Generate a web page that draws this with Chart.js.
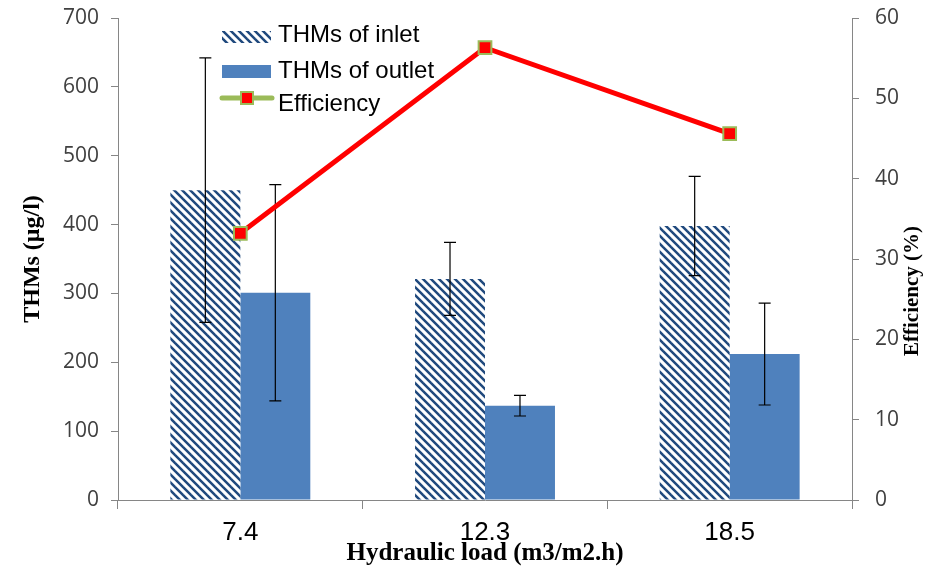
<!DOCTYPE html>
<html>
<head>
    <meta charset="UTF-8">
    <title>THMs vs Hydraulic load</title>
    <script src="https://cdn.jsdelivr.net/npm/chart.js"></script>
    <style>
        body { margin: 0; background: #fff; }
        .chart-wrapper { width: 927px; height: 571px; }
    </style>
</head>
<body>
<div class="chart-wrapper">
    <canvas id="thmsChart"></canvas>
</div>

<script>
    // Values
    const categories = ['7.4', '12.3', '18.5'];
    const inlet = [450, 321, 398];
    const inletErr = [192, 53, 72];
    const outlet = [301, 137, 212];
    const outletErr = [157, 15, 74];
    const efficiency = [33.2, 56.3, 45.6];
    const seriesNames = ['THMs of inlet', 'THMs of outlet', 'Efficiency'];

    // Diagonal hatch for the inlet bars
    function makeHatch(color) {
        var c = document.createElement('canvas');
        c.width = 8; c.height = 8;
        var g = c.getContext('2d');
        g.fillStyle = '#fff';
        g.fillRect(0, 0, 8, 8);
        g.strokeStyle = color;
        g.lineWidth = 2.5;
        for (var k = -8; k <= 8; k += 8) {
            g.beginPath();
            g.moveTo(k - 1, -1);
            g.lineTo(k + 9, 9);
            g.stroke();
        }
        return g.createPattern(c, 'repeat');
    }
    const hatch = makeHatch('#1F497D');
    const errors = { 1: inletErr, 2: outletErr };

    // Error bars, drawn right after each bar dataset (so the line stays on top)
    const errorBars = {
        id: 'errorBars',
        afterDatasetDraw(chart, args) {
            var errs = errors[args.index];
            if (!errs) return;
            var ctx = chart.ctx;
            var y = chart.scales.y;
            var vals = chart.data.datasets[args.index].data;
            ctx.save();
            ctx.strokeStyle = '#000';
            ctx.lineWidth = 1.2;
            args.meta.data.forEach(function (bar, i) {
                var top = y.getPixelForValue(vals[i] + errs[i]);
                var bot = y.getPixelForValue(vals[i] - errs[i]);
                ctx.beginPath();
                ctx.moveTo(bar.x, top); ctx.lineTo(bar.x, bot);
                ctx.moveTo(bar.x - 6, top); ctx.lineTo(bar.x + 6, top);
                ctx.moveTo(bar.x - 6, bot); ctx.lineTo(bar.x + 6, bot);
                ctx.stroke();
            });
            ctx.restore();
        }
    };

    // Legend inside the plot and right-hand axis title
    const extras = {
        id: 'extras',
        afterDraw(chart) {
            var ctx = chart.ctx;
            var a = chart.chartArea;
            var x0 = a.left + 104;
            var rows = [a.top + 19, a.top + 53, a.top + 80];
            ctx.save();
            ctx.font = '24px "Liberation Sans", Arial, sans-serif';
            ctx.fillStyle = '#000';
            ctx.textBaseline = 'middle';
            // inlet
            ctx.fillStyle = hatch;
            ctx.fillRect(x0, rows[0] - 6, 49, 12);
            // outlet
            ctx.fillStyle = '#4F81BD';
            ctx.fillRect(x0, rows[1] - 6, 49, 13);
            // efficiency
            ctx.strokeStyle = '#9BBB59';
            ctx.lineWidth = 5;
            ctx.lineCap = 'round';
            ctx.beginPath();
            ctx.moveTo(x0, rows[2]); ctx.lineTo(x0 + 50, rows[2]);
            ctx.stroke();
            ctx.fillStyle = '#9BBB59';
            ctx.fillRect(x0 + 18, rows[2] - 7, 14, 14);
            ctx.fillStyle = '#FF0000';
            ctx.fillRect(x0 + 20, rows[2] - 5, 10, 10);
            ctx.fillStyle = '#000';
            ctx.fillText(seriesNames[0], x0 + 56, rows[0] - 2);
            ctx.fillText(seriesNames[1], x0 + 56, rows[1]);
            ctx.fillText(seriesNames[2], x0 + 56, rows[2] + 6);
            // right axis title
            ctx.font = 'bold 21px "Liberation Serif", "Times New Roman", serif';
            ctx.textAlign = 'center';
            ctx.translate(chart.width - 14, (a.top + a.bottom) / 2 + 32);
            ctx.rotate(-Math.PI / 2);
            ctx.fillText('Efficiency (%)', 0, 0);
            ctx.restore();
        }
    };

    const tickFont = { family: '"Open Sans", sans-serif', size: 21 };
    const axisGrey = '#868686';

    function fixWidth(w) {
        return function (s) {
            s.width = w;
            s.paddingTop = 0;
            s.paddingBottom = 0;
        };
    }

    new Chart(document.getElementById('thmsChart'), {
        type: 'bar',
        data: {
            labels: categories,
            datasets: [
                {
                    type: 'line',
                    label: seriesNames[2],
                    data: efficiency,
                    yAxisID: 'y1',
                    borderColor: '#FF0000',
                    borderWidth: 5,
                    tension: 0,
                    pointStyle: 'rect',
                    pointRadius: 9,
                    pointHoverRadius: 9,
                    pointBackgroundColor: '#FF0000',
                    pointBorderColor: '#9BBB59',
                    pointBorderWidth: 2,
                    order: 0
                },
                {
                    label: seriesNames[0],
                    data: inlet,
                    backgroundColor: hatch,
                    yAxisID: 'y',
                    categoryPercentage: 0.572,
                    barPercentage: 1.0,
                    order: 1
                },
                {
                    label: seriesNames[1],
                    data: outlet,
                    backgroundColor: '#4F81BD',
                    yAxisID: 'y',
                    categoryPercentage: 0.572,
                    barPercentage: 1.0,
                    order: 2
                }
            ]
        },
        options: {
            responsive: true,
            maintainAspectRatio: false,
            animation: false,
            layout: { padding: { top: 18, left: 0, right: 0, bottom: 0 } },
            plugins: {
                legend: { display: false },
                tooltip: { enabled: false }
            },
            scales: {
                x: {
                    afterFit: function (s) { s.height = 71; },
                    grid: { offset: true, drawOnChartArea: false, tickLength: 9, color: axisGrey },
                    border: { color: axisGrey },
                    ticks: {
                        color: '#000',
                        padding: 8,
                        font: { family: '"Liberation Sans", Arial, sans-serif', size: 26 }
                    },
                    title: {
                        display: true,
                        text: 'Hydraulic load (m3/m2.h)',
                        color: '#000',
                        padding: { top: 0, bottom: 2 },
                        font: { family: '"Liberation Serif", "Times New Roman", serif', size: 25, weight: 'bold' }
                    }
                },
                y: {
                    position: 'left',
                    min: 0,
                    max: 700,
                    afterFit: fixWidth(118),
                    grid: { drawOnChartArea: false, tickLength: 7, color: axisGrey },
                    border: { color: axisGrey },
                    ticks: { stepSize: 100, color: '#404040', padding: 12, font: tickFont },
                    title: {
                        display: true,
                        text: 'THMs (μg/l)',
                        color: '#000',
                        padding: { top: 18, bottom: 0 },
                        font: { family: '"Liberation Serif", "Times New Roman", serif', size: 24, weight: 'bold' }
                    }
                },
                y1: {
                    position: 'right',
                    min: 0,
                    max: 60,
                    afterFit: fixWidth(75),
                    grid: { drawOnChartArea: false, tickLength: 7, color: axisGrey },
                    border: { color: axisGrey },
                    ticks: { stepSize: 10, color: '#404040', padding: 16, font: tickFont }
                }
            }
        },
        plugins: [errorBars, extras]
    });
</script>
</body>
</html>
